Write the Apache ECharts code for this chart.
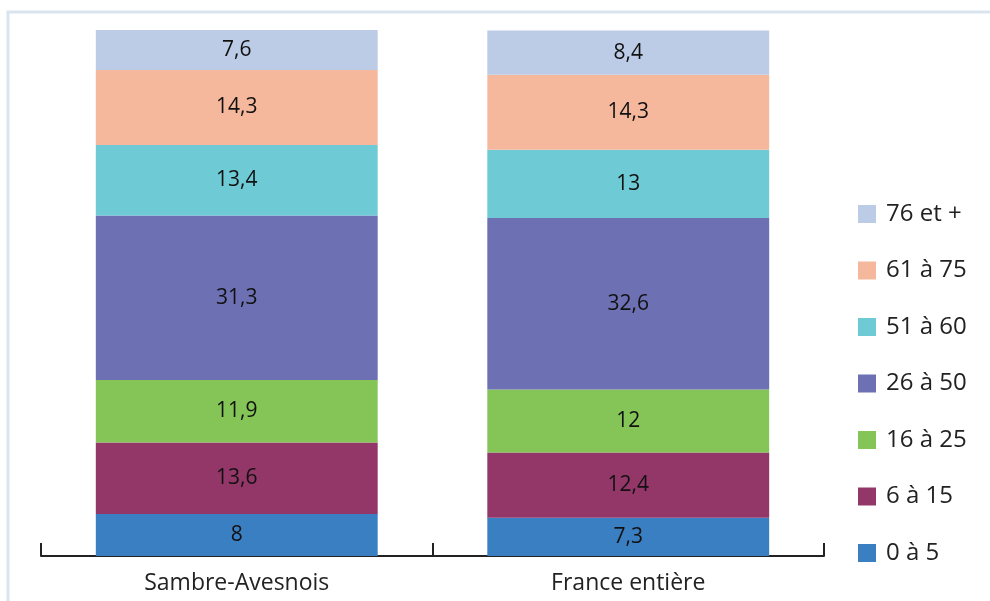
<!DOCTYPE html>
<html><head><meta charset="utf-8">
<script src="https://cdn.jsdelivr.net/npm/echarts@6/dist/echarts.min.js"></script>
<style>html,body{margin:0;padding:0;background:#fff}#c{width:990px;height:601px}</style>
</head><body><div id="c"></div>
<script>
const categories = ['Sambre-Avesnois', 'France entière'];
const groups = ['0 à 5', '6 à 15', '16 à 25', '26 à 50', '51 à 60', '61 à 75', '76 et +'];
const v0_5 = [8, 7.3];
const v6_15 = [13.6, 12.4];
const v16_25 = [11.9, 12];
const v26_50 = [31.3, 32.6];
const v51_60 = [13.4, 13];
const v61_75 = [14.3, 14.3];
const v76 = [7.6, 8.4];
const values = [v0_5, v6_15, v16_25, v26_50, v51_60, v61_75, v76];
const colors = ['#3a7fc1', '#933768', '#85c456', '#6d71b3', '#6ecbd5', '#f6b89c', '#bccce6'];
const fontFam = '"Open Sans", "Noto Sans", sans-serif';

const chart = echarts.init(document.getElementById('c'));
chart.setOption({
  animation: false,
  graphic: [{
    type: 'rect', shape: {x: 8, y: 12, width: 1000, height: 620},
    style: {fill: 'none', stroke: '#dae4ef', lineWidth: 3}, silent: true
  }],
  legend: {
    orient: 'vertical', left: 853, top: 197,
    data: groups.slice().reverse(),
    itemWidth: 18, itemHeight: 18, itemGap: 32.5,
    icon: 'rect',
    textStyle: {fontSize: 24, lineHeight: 24, color: '#222', fontFamily: fontFam, padding: [0, 0, 0, 5]}
  },
  grid: {left: 41, right: 166, top: 30, bottom: 45},
  xAxis: {
    type: 'category', data: categories,
    axisLine: {show: true, lineStyle: {color: '#222', width: 2}},
    axisTick: {show: true, inside: true, length: 13, interval: 0, lineStyle: {color: '#222', width: 2}},
    axisLabel: {fontSize: 23, color: '#222', fontFamily: fontFam, margin: 16}
  },
  yAxis: {type: 'value', min: 0, max: 100.1, show: false, splitLine: {show: false}},
  series: groups.map((g, i) => ({
    name: g, type: 'bar', stack: 'total', data: values[i], barWidth: '72%',
    itemStyle: {color: colors[i]},
    label: {show: true, position: 'inside', fontSize: 21, color: '#111', fontFamily: fontFam,
      formatter: p => String(p.value).replace('.', ',')}
  }))
});
</script></body></html>
